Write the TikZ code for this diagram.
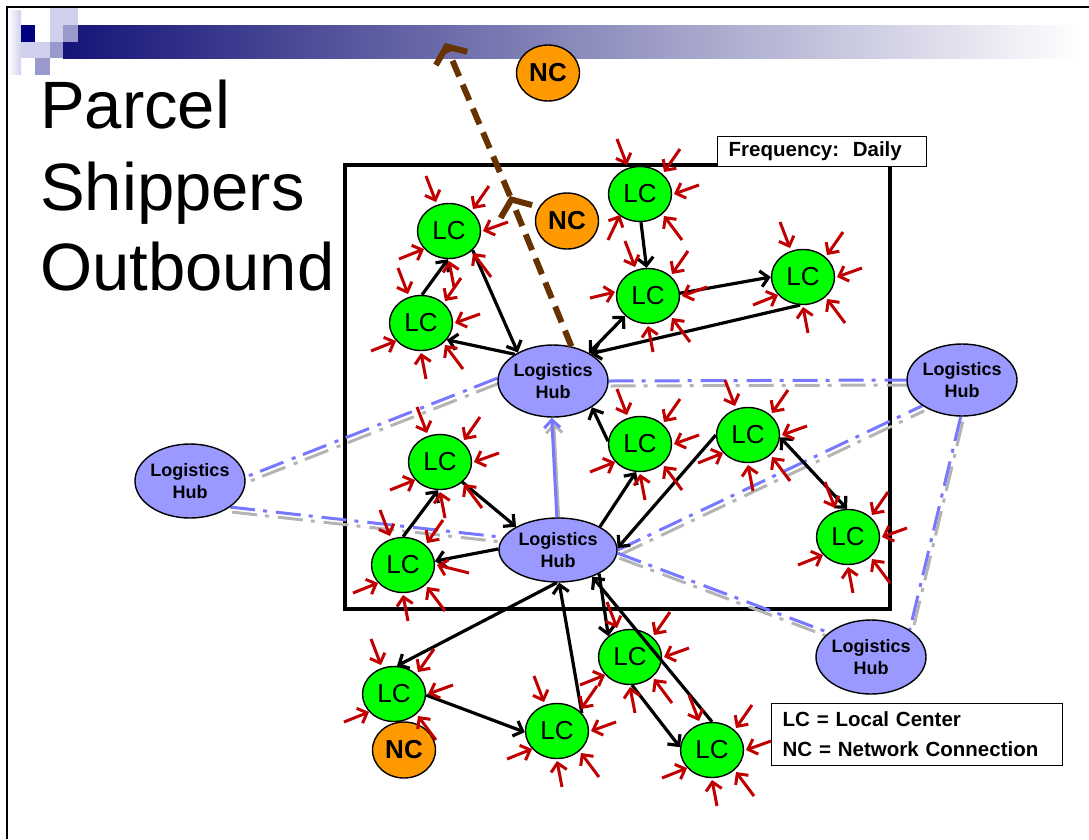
\documentclass[tikz,border=0pt]{standalone}
\usepackage{fontspec}
\setmainfont{Liberation Sans}
\usetikzlibrary{shapes.geometric,arrows.meta,calc}

\definecolor{lcgreen}{HTML}{00FF00}
\definecolor{ncorange}{HTML}{FF9900}
\definecolor{hubblue}{HTML}{9999FF}
\definecolor{stubred}{HTML}{C00000}
\definecolor{routebrown}{HTML}{663300}
\definecolor{linkblue}{HTML}{7777FF}
\definecolor{linkshadow}{HTML}{B4B4B4}
\definecolor{barnavy}{HTML}{141478}
\definecolor{barmid}{HTML}{9090B0}
\definecolor{tilelight}{HTML}{D0D0EE}
\definecolor{tilemid}{HTML}{9999CC}
\definecolor{tiledark}{HTML}{000080}

\pgfdeclarelayer{links}
\pgfsetlayers{links,main}

\tikzset{
  lc/.style={ellipse, draw=black, line width=1.4pt, fill=lcgreen,
    minimum width=63pt, minimum height=55pt, inner sep=0pt,
    font=\fontsize{26}{26}\selectfont},
  nc/.style={ellipse, draw=black, line width=1.4pt, fill=ncorange,
    minimum width=63pt, minimum height=56pt, inner sep=0pt,
    font=\bfseries\fontsize{26}{26}\selectfont},
  hub/.style={ellipse, draw=black, line width=1.4pt, fill=hubblue,
    minimum width=110pt, minimum height=72pt, inner xsep=-2pt, inner ysep=0pt,
    align=center, font=\bfseries\fontsize{18}{22}\selectfont},
  title/.style={anchor=base west, inner sep=0pt, font=\fontsize{67}{80}\selectfont},
  infobox/.style={draw=black, line width=1.3pt, fill=white, inner xsep=11pt,
    inner ysep=0pt, align=left, font=\bfseries\fontsize{20.5}{30}\selectfont},
  barb/.tip={Straight Barb[length=8pt,width=16pt]},
  flow/.style={draw=black, line width=3.2pt, -barb},
  flowboth/.style={draw=black, line width=3.2pt, barb-barb},
  stub/.style={draw=stubred, line width=3pt, -{Straight Barb[length=8pt,width=16pt]}},
  linkdash/.style={line width=3pt, dash pattern=on 25pt off 8pt on 4pt off 9pt},
  route/.style={draw=routebrown, line width=6pt, dash pattern=on 17pt off 9pt,
    -{Straight Barb[length=13pt,width=34pt]}},
}

% short red inbound stubs around a local center
\newcommand\redstub[3]{\draw[stub] ($(#1)+(#2)$) -- ($(#1)+(#3)$);}
\newcommand\stubT[1]{\redstub{#1}{-23,-55}{-13,-29}}
\newcommand\stubU[1]{\redstub{#1}{40,-45}{24,-22}}
\newcommand\stubR[1]{\redstub{#1}{59,-9}{34,0}}
\newcommand\stubL[1]{\redstub{#1}{-50,28}{-25,18}}
\newcommand\stubB[1]{\redstub{#1}{5,56}{0,30}}
\newcommand\stubD[1]{\redstub{#1}{42,46}{24,22}}
\newcommand\stubsall[1]{\stubT{#1}\stubU{#1}\stubR{#1}\stubL{#1}\stubB{#1}\stubD{#1}}

\begin{document}
\begin{tikzpicture}[x=1pt,y=-1pt]
\useasboundingbox (0,0) rectangle (1089,839);

\begin{pgfonlayer}{links}
  % slide frame and header bar
  \draw[line width=1.8pt] (7,839) -- (7,7) -- (1089,7);
  \shade[left color=barnavy, middle color=barmid, right color=white]
    (63,25) rectangle (1082,58);
  \shade[left color=white, right color=tilelight] (8,10) rectangle (21,74);
  \fill[tilelight] (50,8) rectangle (78,25);
  \fill[tiledark] (21,25) rectangle (35,42);
  \fill[tilelight] (50,25) rectangle (63,42);
  \fill[tilemid] (63,25) rectangle (78,42);
  \fill[tilelight] (21,42) rectangle (50,58);
  \fill[tilemid] (50,42) rectangle (63,58);
  \fill[tilemid] (35,58) rectangle (50,75);

  % daily region
  \draw[line width=4.4pt] (345,165) rectangle (890,609);
\end{pgfonlayer}

\node[title] (ttl1) at (40,128) {Parcel};
\node[title] (ttl2) at (40,210) {Shippers};
\node[title] (ttl3) at (40,290) {Outbound};

\node[infobox, text width=187pt, minimum height=30pt, anchor=north west]
  (freq) at (717,136) {Frequency:~~Daily};
\node[infobox, text width=269pt, minimum height=62pt, anchor=north west]
  (legend) at (771,703) {LC = Local Center\\NC = Network Connection};

% local centers
\node[lc] (LCa) at (449,231) {LC};
\node[lc] (LCb) at (421,323) {LC};
\node[lc] (LCc) at (640,194) {LC};
\node[lc] (LCd) at (648,296) {LC};
\node[lc] (LCe) at (803,277) {LC};
\node[lc] (LCf) at (440,462) {LC};
\node[lc] (LCg) at (403,565) {LC};
\node[lc] (LCh) at (640,444) {LC};
\node[lc] (LCi) at (748,435) {LC};
\node[lc] (LCj) at (848,537) {LC};
\node[lc] (LCk) at (394,694) {LC};
\node[lc] (LCl) at (557,731) {LC};
\node[lc] (LCm) at (630,657) {LC};
\node[lc] (LCn) at (712,750) {LC};

% network connections
\node[nc] (NCa) at (548,73) {NC};
\node[nc] (NCb) at (567,221) {NC};
\node[nc] (NCc) at (404,750) {NC};

% logistics hubs
\node[hub] (H1) at (553,381) {Logistics\\Hub};
\node[hub, minimum width=118pt, minimum height=64pt] (H2) at (558,550) {Logistics\\Hub};
\node[hub, minimum height=74pt] (H3) at (190,481) {Logistics\\Hub};
\node[hub] (H4) at (962,380) {Logistics\\Hub};
\node[hub, minimum height=74pt] (H5) at (871,657) {Logistics\\Hub};

% hub-to-hub links, each with a grey shadow offset below it
\begin{pgfonlayer}{links}
  \foreach \a/\b in {H1.0/H4.180, H1.177/H3.4, H3.-33/H2.167,
                     H2.0/H4.213, H2.-3/H5.150, H4.-92/H5.35}{
    \draw[linkdash, draw=linkshadow] ($(\a)+(2,5)$) -- ($(\b)+(2,5)$);
    \draw[linkdash, draw=linkblue] (\a) -- (\b);
  }
  \draw[draw=linkshadow, line width=3pt, -barb] ($(H2.92)+(2,5)$) -- ($(H1.-92)+(2,5)$);
  \draw[draw=linkblue, line width=3pt, -barb] (H2.92) -- (H1.-92);
\end{pgfonlayer}

% flows between hubs and local centers
\draw[flow] (LCb.88) -- (LCa.-92);
\draw[flow] (LCa.-39) -- (H1.141);
\draw[flow] (H1.145) -- (LCb.-33);
\draw[flow] (LCc.-88) -- (LCd.93);
\draw[flow] (LCd.5) -- (LCe.180);
\draw[flow] (LCe.-96) -- (H1.36);
\draw[flowboth] (H1.38) -- (LCd.221);
\draw[flow] (LCh.175) -- (H1.-34);
\draw[flow] (H2.29) -- (LCh.-98);
\draw[flow] (LCi.180) -- (H2.2);
\draw[flowboth] (LCi.-4) -- (LCj.92);
\draw[flow] (LCf.-42) -- (H2.151);
\draw[flow] (LCg.90) -- (LCf.-94);
\draw[flow] (H2.179) -- (LCg.7);
\draw[flow] (H2.-92) -- (LCk.84);
\draw[flow] (LCk.-2) -- (LCl.182);
\draw[flow] (LCl.36) -- (H2.-88);
\draw[flow] (H2.-30) -- (LCm.136);
\draw[flow] (LCn.90) -- (H2.-38);
\draw[flow] (LCm.-86) -- (LCn.175);

% inbound stubs
\stubsall{LCa}
\stubsall{LCb}
\stubT{LCc}\stubU{LCc}\stubR{LCc}\stubD{LCc}\redstub{LCc}{-32,46}{-20,21}
\stubT{LCd}\stubU{LCd}\stubR{LCd}\stubB{LCd}\stubD{LCd}\redstub{LCd}{-58,2}{-33,-4}
\stubsall{LCe}
\stubsall{LCf}
\stubT{LCg}\stubU{LCg}\stubL{LCg}\stubB{LCg}\stubD{LCg}\redstub{LCg}{66,8}{34,0}
\stubsall{LCh}
\stubsall{LCi}
\stubsall{LCj}
\stubT{LCk}\stubU{LCk}\stubR{LCk}\stubL{LCk}\stubD{LCk}
\stubsall{LCl}
\stubsall{LCm}
\stubsall{LCn}

% outbound route leaving the region
\coordinate (routebend) at (510,196);
\coordinate (routeend) at (445,43);
\draw[route] (H1.62) -- (routebend);
\draw[route] (routebend) -- (routeend);
\end{tikzpicture}
\end{document}
